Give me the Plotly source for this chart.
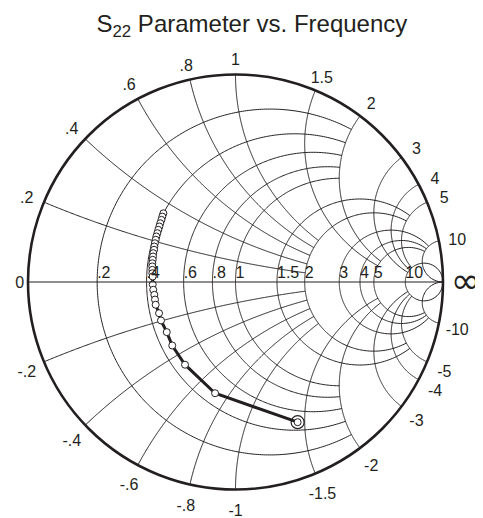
import numpy as np
import plotly.graph_objects as go

# S22: magnitude and angle (degrees), in frequency order
s22_mag = [0.480, 0.473, 0.466, 0.460, 0.454, 0.449, 0.444, 0.440, 0.435, 0.431,
           0.427, 0.422, 0.420, 0.416, 0.413, 0.411, 0.408, 0.405, 0.403, 0.400,
           0.399, 0.398, 0.396, 0.397, 0.400, 0.398, 0.404, 0.410, 0.432, 0.467,
           0.545, 0.739]
s22_ang = [136.4, 138.2, 140.0, 142.0, 143.9, 145.9, 148.0, 150.1, 152.1, 154.3,
           156.4, 158.4, 160.7, 162.8, 165.0, 167.3, 169.4, 171.7, 174.0, 176.2,
           -178.3, -174.6, -171.0, -167.7, -164.1, -157.8, -152.7, -143.9, -134.9, -121.4,
           -100.4, -66.1]

# grid values (resistance circles / reactance arcs) and their labels
grid_vals = [0.2, 0.4, 0.6, 0.8, 1, 1.5, 2, 3, 4, 5, 10]
grid_labels = [".2", ".4", ".6", ".8", "1", "1.5", "2", "3", "4", "5", "10"]
neg_labels = ["-.2", "-.4", "-.6", "-.8", "-1", "-1.5", "-2", "-3", "-4", "-5", "-10"]
# how far each circle / arc is drawn (classic reduced Smith grid)
grid_limits = [2, 2, 2, 2, 2, 5, 5, 10, 10, 10, 1e4]

INK = "#231f20"
FONT = "Liberation Sans, Arial, Helvetica, sans-serif"

gamma = np.array(s22_mag) * np.exp(1j * np.deg2rad(np.array(s22_ang)))
z = (1 + gamma) / (1 - gamma)


def outside(g):
    """impedance of a point in the reflection plane (used to seat labels outside the rim)"""
    g = np.asarray(g, dtype=complex)
    return (1 + g) / (1 - g)


fig = go.Figure()

# ---- grid drawn through the smith scales ----
for v, lim in zip(grid_vals, grid_limits):
    phi = np.linspace(-np.arctan(lim), np.arctan(lim), 400)
    xs = np.tan(phi)
    fig.add_trace(go.Scattersmith(real=np.full_like(xs, v), imag=xs, mode="lines",
                                  line=dict(color=INK, width=1), showlegend=False,
                                  hoverinfo="skip"))
    phi = np.linspace(0, np.arctan(lim), 300)
    rs = np.tan(phi)
    for s in (1, -1):
        fig.add_trace(go.Scattersmith(real=rs, imag=np.full_like(rs, s * v), mode="lines",
                                      line=dict(color=INK, width=1), showlegend=False,
                                      hoverinfo="skip"))

# ---- data ----
fig.add_trace(go.Scattersmith(
    real=z.real, imag=z.imag, mode="lines+markers",
    line=dict(color=INK, width=3),
    marker=dict(symbol="circle", size=7, color="white",
                line=dict(color=INK, width=1)),
    showlegend=False, hoverinfo="skip"))
fig.add_trace(go.Scattersmith(
    real=z.real[-1:], imag=z.imag[-1:], mode="markers",
    marker=dict(symbol="circle-open", size=13, color=INK,
                line=dict(color=INK, width=1.2)),
    showlegend=False, hoverinfo="skip"))

# ---- labels ----
gv = np.array(grid_vals, dtype=float)
lab_font = dict(family=FONT, size=16, color=INK)
fig.add_trace(go.Scattersmith(real=gv, imag=np.zeros_like(gv), mode="text",
                              text=grid_labels, textposition="top right",
                              textfont=lab_font,
                              cliponaxis=False, showlegend=False, hoverinfo="skip"))
z0 = outside([-1.04 - 0.012j])
fig.add_trace(go.Scattersmith(real=z0.real, imag=z0.imag, mode="text", text=["0"],
                              textposition="middle center", textfont=lab_font,
                              cliponaxis=False, showlegend=False, hoverinfo="skip"))
zinf = outside([1.11 - 0.01j])
fig.add_trace(go.Scattersmith(real=zinf.real, imag=zinf.imag, mode="text", text=["∞"],
                              textposition="middle center",
                              textfont=dict(family="DejaVu Sans", size=36, color=INK),
                              cliponaxis=False, showlegend=False, hoverinfo="skip"))
xv = np.concatenate([gv, -gv])
edge = (1j * xv - 1) / (1j * xv + 1)
k = np.where(edge.imag > 0.9, 1.082, 1.09)
zl = outside(k * edge - 0.019j)
fig.add_trace(go.Scattersmith(real=zl.real, imag=zl.imag, mode="text",
                              text=grid_labels + neg_labels, textposition="middle center",
                              textfont=lab_font,
                              cliponaxis=False, showlegend=False, hoverinfo="skip"))

fig.update_layout(
    width=483, height=518,
    margin=dict(l=20, r=48, t=66, b=36),
    paper_bgcolor="white",
    font=dict(family=FONT, size=16, color=INK),
    title=dict(text="S<sub>22</sub> Parameter vs. Frequency", x=0.505, xanchor="center",
               y=1 - 16 / 518, yanchor="middle",
               font=dict(size=24, color=INK)),
    smith=dict(
        bgcolor="white",
        realaxis=dict(showgrid=False, showticklabels=False, ticks="",
                      linecolor=INK, linewidth=1, showline=True),
        imaginaryaxis=dict(showgrid=False, showticklabels=False, ticks="",
                           linecolor=INK, linewidth=2.6, showline=True),
    ),
)
fig.write_html("out.html")
